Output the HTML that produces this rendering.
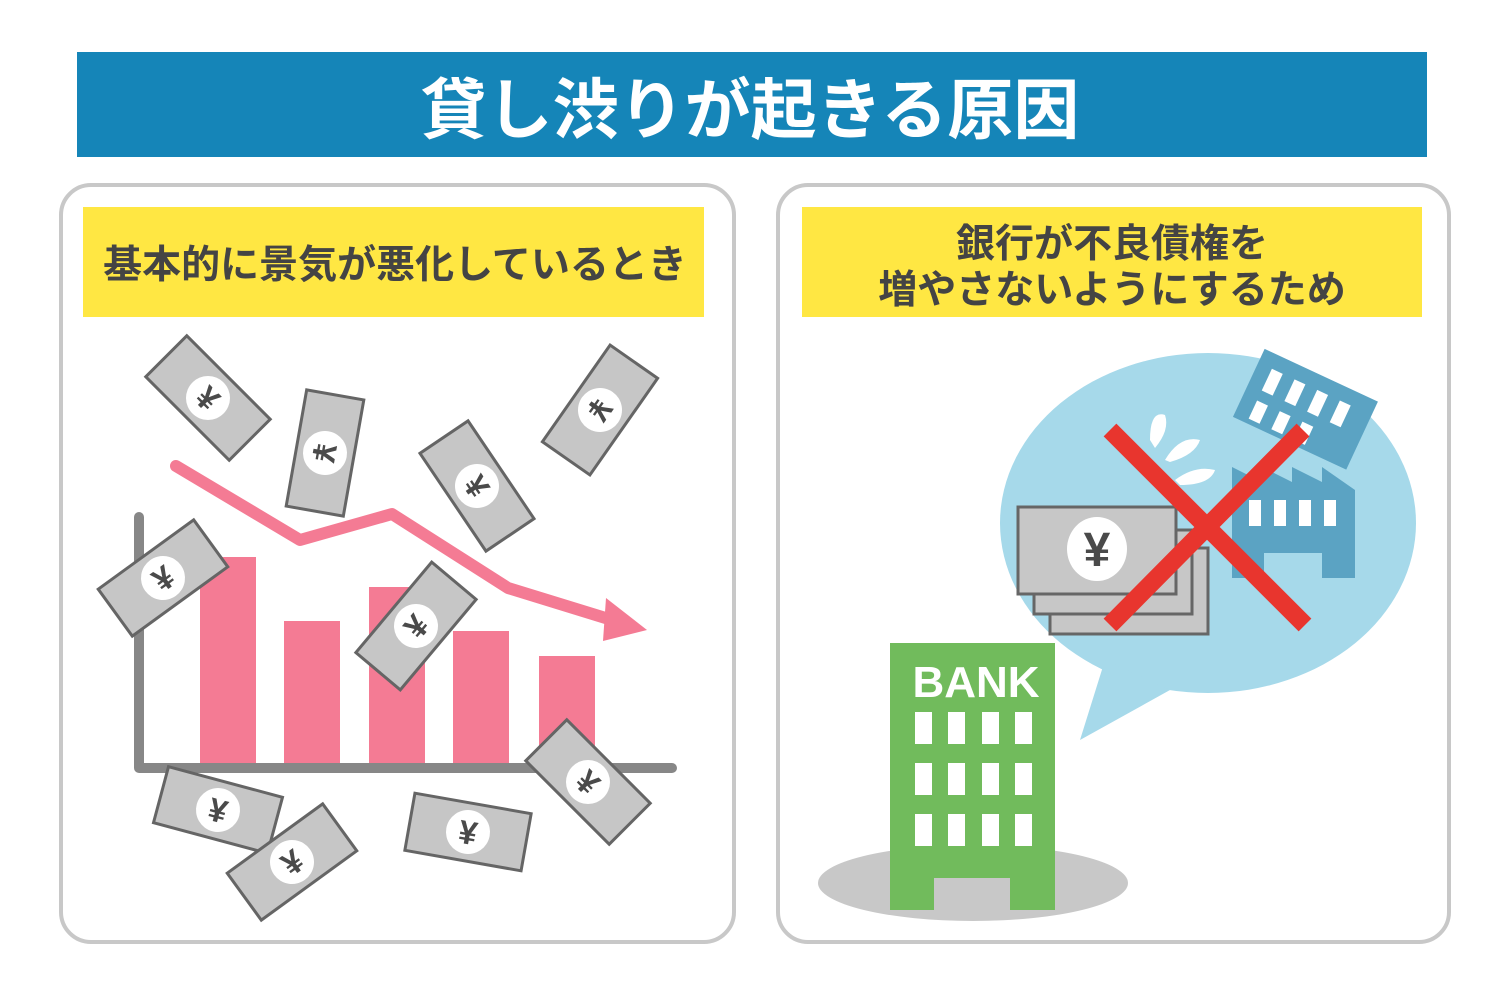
<!DOCTYPE html>
<html><head><meta charset="utf-8"><style>
html,body{margin:0;padding:0;background:#fff;width:1500px;height:1000px;overflow:hidden}
svg{display:block}
</style></head><body>
<svg width="1500" height="1000" viewBox="0 0 1500 1000" xmlns="http://www.w3.org/2000/svg">
<defs>
<g id="bill">
<rect x="-59" y="-29" width="118" height="58" fill="#c6c6c6" stroke="#656565" stroke-width="3"/>
<circle cx="0" cy="0" r="22" fill="#fff"/>
<text x="0" y="12" text-anchor="middle" font-family="Liberation Sans, sans-serif" font-weight="bold" font-size="33" fill="#4a4a4a">¥</text>
</g>
</defs>
<rect x="77" y="52" width="1350" height="105" fill="#1585b8"/>
<text x="750" y="133" text-anchor="middle" font-family="Liberation Sans, 'Noto Sans CJK JP', sans-serif" font-weight="bold" font-size="66" fill="#fff">貸し渋りが起きる原因</text>

<rect x="61" y="185" width="673" height="757" rx="30" fill="#fff" stroke="#c8c8c8" stroke-width="4"/>
<rect x="778" y="185" width="671" height="757" rx="30" fill="#fff" stroke="#c8c8c8" stroke-width="4"/>
<rect x="83" y="207" width="621" height="110" fill="#ffe743"/>
<rect x="802" y="207" width="620" height="110" fill="#ffe743"/>
<text x="395" y="278" text-anchor="middle" font-family="Liberation Sans, 'Noto Sans CJK JP', sans-serif" font-weight="bold" font-size="39" fill="#444">基本的に景気が悪化しているとき</text>
<text x="1112" y="257" text-anchor="middle" font-family="Liberation Sans, 'Noto Sans CJK JP', sans-serif" font-weight="bold" font-size="39" fill="#444">銀行が不良債権を</text>
<text x="1112" y="303" text-anchor="middle" font-family="Liberation Sans, 'Noto Sans CJK JP', sans-serif" font-weight="bold" font-size="39" fill="#444">増やさないようにするため</text>

<g fill="#f47b94">
<rect x="200" y="557" width="56" height="211"/>
<rect x="284" y="621" width="56" height="147"/>
<rect x="369" y="587" width="56" height="181"/>
<rect x="453" y="631" width="56" height="137"/>
<rect x="539" y="656" width="56" height="112"/>
</g>
<path d="M139 517 V768 H672" fill="none" stroke="#878787" stroke-width="10" stroke-linecap="round" stroke-linejoin="round"/>
<path d="M176 466 L300 540 L392 514 L508 588 L612 620" fill="none" stroke="#f47b94" stroke-width="12" stroke-linecap="round" stroke-linejoin="round"/>
<polygon points="606,598 647,630 603,641" fill="#f47b94"/>

<use href="#bill" transform="translate(208,398) rotate(45)"/>
<use href="#bill" transform="translate(325,453) rotate(100)"/>
<use href="#bill" transform="translate(600,410) rotate(125)"/>
<use href="#bill" transform="translate(477,486) rotate(56)"/>
<use href="#bill" transform="translate(163,578) rotate(-36)"/>
<use href="#bill" transform="translate(416,626) rotate(-50)"/>
<use href="#bill" transform="translate(218,810) rotate(15)"/>
<use href="#bill" transform="translate(292,862) rotate(-36)"/>
<use href="#bill" transform="translate(468,832) rotate(10)"/>
<use href="#bill" transform="translate(588,782) rotate(45)"/>

<ellipse cx="1208" cy="523" rx="208" ry="170" fill="#a6d9ea"/>
<polygon points="1105,660 1170,690 1080,740" fill="#a6d9ea"/>
<ellipse cx="973" cy="883" rx="155" ry="38" fill="#c8c8c8"/>
<rect x="890" y="643" width="165" height="267" fill="#71bb5c"/>
<text x="976" y="697" text-anchor="middle" font-family="Liberation Sans, sans-serif" font-weight="bold" font-size="44" fill="#fff">BANK</text>
<g fill="#fff">
<rect x="915" y="712" width="17" height="32"/><rect x="948" y="712" width="17" height="32"/><rect x="982" y="712" width="17" height="32"/><rect x="1015" y="712" width="17" height="32"/>
<rect x="915" y="763" width="17" height="32"/><rect x="948" y="763" width="17" height="32"/><rect x="982" y="763" width="17" height="32"/><rect x="1015" y="763" width="17" height="32"/>
<rect x="915" y="814" width="17" height="32"/><rect x="948" y="814" width="17" height="32"/><rect x="982" y="814" width="17" height="32"/><rect x="1015" y="814" width="17" height="32"/>
</g>
<rect x="934" y="878" width="76" height="32" fill="#c8c8c8"/>

<path d="M1232 467 L1262 482 L1262 467 L1292 482 L1292 467 L1322 482 L1322 467 L1355 490 L1355 578 L1322 578 L1322 553 L1264 553 L1264 578 L1232 578 Z" fill="#5ba3c3"/>
<g fill="#fff"><rect x="1249" y="500" width="12" height="26"/><rect x="1274" y="500" width="12" height="26"/><rect x="1299" y="500" width="12" height="26"/><rect x="1324" y="500" width="12" height="26"/></g>
<g transform="translate(1300,415) rotate(25)">
<rect x="-60" y="-45" width="125" height="75" fill="#5ba3c3"/>
<g fill="#fff"><rect x="-45" y="-30" width="12" height="24"/><rect x="-20" y="-30" width="12" height="24"/><rect x="5" y="-30" width="12" height="24"/><rect x="30" y="-30" width="12" height="24"/>
<rect x="-45" y="5" width="12" height="20"/><rect x="-20" y="5" width="12" height="20"/><rect x="5" y="5" width="12" height="20"/></g>
</g>
<g fill="#fff">
<path d="M1150 440 Q1150 410 1165 415 Q1170 430 1155 448 Z"/>
<path d="M1165 460 Q1180 435 1200 440 Q1195 455 1170 462 Z"/>
<path d="M1175 480 Q1195 465 1215 470 Q1210 485 1180 485 Z"/>
</g>

<rect x="1050" y="548" width="158" height="86" fill="#c7c7c7" stroke="#666" stroke-width="3"/>
<rect x="1034" y="530" width="158" height="84" fill="#c7c7c7" stroke="#666" stroke-width="3"/>
<rect x="1018" y="507" width="158" height="87" fill="#c7c7c7" stroke="#666" stroke-width="3"/>
<ellipse cx="1097" cy="549" rx="30" ry="32" fill="#fff"/>
<text x="1097" y="566" text-anchor="middle" font-family="Liberation Sans, sans-serif" font-weight="bold" font-size="48" fill="#4a4a4a">¥</text>

<path d="M1110 430 L1305 625 M1303 430 L1110 625" stroke="#e8352e" stroke-width="18"/>
</svg>
</body></html>
